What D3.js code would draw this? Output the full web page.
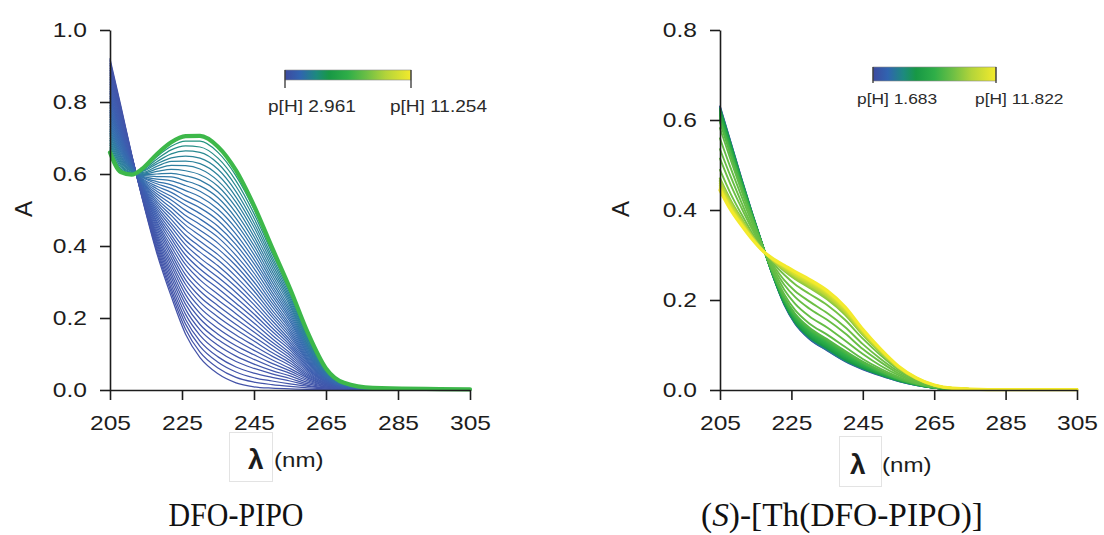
<!DOCTYPE html>
<html><head><meta charset="utf-8">
<script src="https://cdn.jsdelivr.net/npm/d3@7"></script>
<style>
body{margin:0;background:#fff}
svg{display:block}
.sans{font-family:"Liberation Sans",Arial,Helvetica,sans-serif}
.serif{font-family:"Liberation Serif","DejaVu Serif","Times New Roman",serif}
</style></head>
<body><svg id="chart" width="1104" height="535"></svg>
<script>
// ---------- DATA ----------
const xTicks = [205, 225, 245, 265, 285, 305];
const yTicksLeft = [0, 0.2, 0.4, 0.6, 0.8, 1.0];
const yTicksRight = [0, 0.2, 0.4, 0.6, 0.8];
const legendLeft = ["p[H] 2.961", "p[H] 11.254"];
const legendRight = ["p[H] 1.683", "p[H] 11.822"];

// DFO-PIPO : wavelengths (nm) and absorbance spectra, low p[H] (first) -> high p[H] (last)
const lambdaLeft = [205,208,211,214,218,222,226,230,235,240,245,250,255,260,265,270,278,305];
const spectraLeft = [
[.920,.790,.655,.530,.380,.260,.155,.090,.045,.020,.009,.005,.003,.002,.002,.001,.001,.002],
[.914,.785,.654,.532,.387,.271,.169,.105,.061,.035,.022,.015,.010,.006,.003,.001,.001,.002],
[.907,.781,.652,.534,.394,.281,.183,.121,.077,.050,.034,.025,.017,.010,.005,.002,.001,.002],
[.901,.776,.651,.536,.401,.292,.196,.136,.092,.064,.047,.035,.025,.013,.006,.002,.001,.002],
[.894,.772,.649,.539,.408,.303,.210,.152,.108,.079,.060,.045,.032,.017,.008,.003,.002,.002],
[.888,.767,.648,.541,.414,.314,.224,.167,.124,.094,.072,.054,.039,.021,.009,.003,.002,.002],
[.881,.762,.646,.543,.421,.324,.238,.182,.140,.109,.085,.064,.046,.025,.011,.004,.002,.002],
[.875,.758,.645,.545,.428,.335,.251,.198,.155,.123,.098,.074,.053,.029,.012,.004,.002,.002],
[.868,.753,.644,.547,.435,.346,.265,.213,.171,.138,.110,.084,.060,.033,.014,.005,.002,.002],
[.862,.748,.642,.549,.442,.356,.279,.229,.187,.153,.123,.094,.068,.036,.015,.005,.002,.002],
[.855,.744,.641,.551,.449,.367,.293,.244,.203,.168,.136,.104,.075,.040,.017,.006,.002,.002],
[.849,.739,.639,.553,.456,.378,.306,.259,.219,.182,.148,.114,.082,.044,.018,.006,.002,.002],
[.842,.735,.638,.556,.463,.388,.320,.275,.234,.197,.161,.124,.089,.048,.019,.007,.003,.002],
[.836,.730,.636,.558,.469,.399,.334,.290,.250,.212,.173,.133,.096,.052,.021,.007,.003,.002],
[.829,.725,.635,.560,.476,.410,.348,.306,.266,.227,.186,.143,.103,.056,.022,.008,.003,.002],
[.823,.721,.634,.562,.483,.421,.361,.321,.282,.241,.199,.153,.111,.059,.024,.008,.003,.002],
[.816,.716,.632,.564,.490,.431,.375,.336,.297,.256,.211,.163,.118,.063,.025,.009,.003,.002],
[.810,.711,.631,.566,.497,.442,.389,.352,.313,.271,.224,.173,.125,.067,.027,.009,.003,.002],
[.803,.707,.629,.568,.504,.453,.403,.367,.329,.286,.237,.183,.132,.071,.028,.010,.003,.002],
[.797,.702,.628,.570,.511,.463,.416,.383,.345,.300,.249,.193,.139,.075,.030,.010,.003,.002],
[.790,.698,.627,.573,.518,.474,.430,.398,.361,.315,.262,.203,.147,.079,.031,.011,.004,.002],
[.784,.693,.625,.575,.524,.485,.444,.413,.376,.330,.275,.212,.154,.082,.032,.011,.004,.002],
[.777,.688,.624,.577,.531,.495,.458,.429,.392,.345,.287,.222,.161,.086,.034,.011,.004,.002],
[.771,.684,.622,.579,.538,.506,.471,.444,.408,.359,.300,.232,.168,.090,.035,.012,.004,.002],
[.764,.679,.621,.581,.545,.517,.485,.460,.424,.374,.313,.242,.175,.094,.037,.012,.004,.002],
[.758,.674,.619,.583,.552,.528,.499,.475,.439,.389,.325,.252,.182,.098,.038,.013,.004,.002],
[.751,.670,.618,.585,.559,.538,.513,.490,.455,.404,.338,.262,.190,.101,.040,.013,.004,.002],
[.745,.665,.617,.587,.566,.549,.526,.506,.471,.418,.351,.272,.197,.105,.041,.014,.004,.002],
[.738,.661,.615,.590,.573,.560,.540,.521,.487,.433,.363,.282,.204,.109,.043,.014,.005,.002],
[.732,.656,.614,.592,.579,.570,.554,.537,.502,.448,.376,.291,.211,.113,.044,.015,.005,.002],
[.725,.651,.612,.594,.586,.581,.568,.552,.518,.463,.389,.301,.218,.117,.046,.015,.005,.002],
[.719,.647,.611,.596,.593,.592,.581,.567,.534,.477,.401,.311,.225,.121,.047,.016,.005,.002],
[.712,.642,.609,.598,.600,.602,.595,.583,.550,.492,.414,.321,.233,.124,.048,.016,.005,.002],
[.706,.637,.608,.600,.607,.613,.609,.598,.566,.507,.426,.331,.240,.128,.050,.017,.005,.002],
[.699,.633,.607,.602,.614,.624,.623,.614,.581,.522,.439,.341,.247,.132,.051,.017,.005,.002],
[.693,.628,.605,.604,.621,.635,.636,.629,.597,.536,.452,.351,.254,.136,.053,.018,.005,.002],
[.686,.624,.604,.607,.628,.645,.650,.644,.613,.551,.464,.361,.261,.140,.054,.018,.006,.002],
[.680,.619,.602,.609,.634,.656,.664,.660,.629,.566,.477,.370,.268,.144,.056,.019,.006,.002],
[.673,.614,.601,.611,.641,.667,.678,.675,.644,.581,.490,.380,.274,.148,.057,.019,.006,.002],
[.667,.610,.599,.613,.648,.677,.691,.691,.660,.595,.502,.388,.279,.153,.059,.020,.006,.002],
[.660,.605,.598,.615,.655,.688,.705,.706,.676,.610,.512,.396,.282,.158,.060,.020,.006,.002]
];

// (S)-[Th(DFO-PIPO)] : wavelengths, p[H] of each spectrum and absorbance spectra
const lambdaRight = [205,208,211,214,217,220,223,226,230,235,240,245,250,255,260,265,270,280,305];
const pHRight = [1.683,3.50,4.50,5.20,5.60,5.90,6.20,6.40,6.60,6.80,7.00,7.20,7.40,7.60,
                 7.95,8.05,8.15,8.25,8.35,
                 8.90,9.30,9.70,10.10,10.50,10.95,11.40,11.822];
const spectraRight = [
[.630,.550,.470,.393,.320,.250,.190,.148,.114,.088,.064,.046,.032,.020,.011,.005,.002,.001,.001],
[.628,.549,.469,.392,.320,.250,.191,.149,.115,.089,.065,.047,.033,.020,.011,.005,.002,.001,.001],
[.626,.547,.468,.392,.320,.251,.192,.150,.117,.091,.066,.048,.033,.021,.011,.005,.002,.001,.001],
[.624,.545,.466,.391,.320,.251,.193,.152,.119,.093,.068,.049,.034,.021,.012,.005,.002,.001,.001],
[.621,.543,.465,.390,.319,.252,.194,.154,.121,.095,.070,.051,.035,.022,.012,.005,.002,.001,.001],
[.618,.540,.463,.389,.319,.253,.196,.156,.123,.097,.072,.052,.036,.022,.012,.005,.002,.001,.001],
[.615,.538,.462,.388,.319,.253,.197,.157,.125,.099,.074,.053,.037,.023,.012,.005,.002,.001,.001],
[.612,.536,.460,.388,.319,.254,.198,.159,.127,.101,.076,.055,.038,.023,.013,.006,.002,.001,.001],
[.610,.534,.459,.387,.319,.255,.200,.161,.129,.103,.077,.056,.039,.024,.013,.006,.002,.001,.001],
[.607,.531,.457,.386,.319,.255,.201,.162,.131,.105,.079,.057,.039,.024,.013,.006,.002,.001,.001],
[.604,.529,.455,.385,.318,.256,.202,.164,.133,.107,.081,.059,.040,.025,.013,.006,.002,.001,.001],
[.601,.527,.454,.384,.318,.256,.203,.166,.135,.109,.083,.060,.041,.025,.014,.006,.002,.001,.001],
[.598,.525,.452,.383,.318,.257,.205,.168,.136,.111,.085,.061,.042,.026,.014,.006,.002,.001,.001],
[.595,.522,.450,.382,.318,.258,.207,.170,.139,.113,.087,.063,.043,.026,.014,.006,.002,.001,.001],
[.582,.511,.443,.378,.317,.261,.213,.178,.148,.123,.096,.069,.047,.029,.015,.007,.003,.001,.001],
[.559,.493,.431,.371,.316,.266,.223,.192,.164,.139,.110,.080,.054,.033,.017,.007,.003,.001,.001],
[.535,.474,.417,.363,.314,.271,.234,.207,.181,.156,.126,.091,.062,.037,.019,.008,.003,.001,.001],
[.514,.456,.405,.357,.313,.276,.244,.220,.197,.171,.140,.102,.069,.041,.021,.009,.003,.001,.001],
[.489,.436,.391,.349,.312,.281,.256,.235,.214,.189,.156,.114,.077,.045,.023,.010,.004,.001,.001],
[.470,.421,.381,.343,.311,.285,.265,.247,.228,.202,.168,.123,.083,.048,.025,.010,.004,.001,.001],
[.466,.418,.379,.342,.310,.286,.267,.249,.230,.205,.171,.124,.084,.049,.025,.010,.004,.001,.001],
[.463,.415,.376,.341,.310,.287,.268,.252,.233,.208,.173,.126,.085,.050,.025,.010,.004,.001,.001],
[.459,.412,.374,.340,.310,.288,.270,.254,.235,.210,.175,.128,.086,.050,.026,.011,.004,.001,.001],
[.455,.409,.372,.338,.310,.289,.272,.256,.238,.213,.178,.130,.088,.051,.026,.011,.004,.001,.001],
[.451,.406,.370,.337,.309,.289,.274,.258,.241,.216,.180,.131,.089,.052,.026,.011,.004,.001,.001],
[.448,.403,.368,.336,.309,.290,.275,.261,.243,.218,.183,.133,.090,.052,.027,.011,.004,.001,.001],
[.444,.400,.366,.335,.309,.291,.277,.263,.246,.221,.185,.135,.091,.053,.027,.011,.004,.001,.001]
];

// ---------- DRAWING ----------
const svg = d3.select("#chart");
const INK = "#1c1c1c";

const gradStops = [[0,"#3d4a9f"],[0.12,"#3064b0"],[0.25,"#1d8a7e"],[0.35,"#179845"],
                   [0.5,"#2fae48"],[0.65,"#6dbf45"],[0.8,"#b3d43a"],[1,"#f3ea2c"]];
const gradColor = d3.scaleLinear().domain(gradStops.map(s=>s[0])).range(gradStops.map(s=>s[1]))
  .interpolate(d3.interpolateRgb).clamp(true);
const leftColor = d3.scaleLinear().domain([0,0.4,0.7,0.9,0.975,1])
  .range(["#4453a8","#3e5fb0","#3570ae","#2b8498","#23937f","#3cb54a"]).interpolate(d3.interpolateRgb);

function stretch(sel, k){
  sel.each(function(){
    const L = this.getComputedTextLength();
    this.setAttribute("textLength", (L*k).toFixed(1));
    this.setAttribute("lengthAdjust","spacingAndGlyphs");
  });
}

const defs = svg.append("defs");
function addGradient(id){
  const lg = defs.append("linearGradient").attr("id", id).attr("x1","0%").attr("x2","100%").attr("y1","0%").attr("y2","0%");
  gradStops.forEach(s => lg.append("stop").attr("offset", (s[0]*100)+"%").attr("stop-color", s[1]));
}
addGradient("gL"); addGradient("gR");

function panel(o){
  const x = d3.scaleLinear().domain([205,305]).range(o.xr);
  const y = d3.scaleLinear().domain(o.yd).range([390,30]);
  const g = svg.append("g").attr("class","sans");
  const line = d3.line().x((d,i)=>x(o.lam[i])).y(d=>y(d)).curve(d3.curveMonotoneX);
  g.append("g").selectAll("path").data(o.spectra).join("path")
    .attr("d", line).attr("fill","none")
    .attr("stroke",(d,i)=>o.color(i)).attr("stroke-width",(d,i)=>o.width(i))
    .attr("stroke-linejoin","round").attr("stroke-linecap","round");

  const gx = g.append("g").attr("transform","translate(0,390)")
    .call(d3.axisBottom(x).tickValues(xTicks).tickSize(10).tickPadding(15).tickSizeOuter(0));
  const gy = g.append("g").attr("transform",`translate(${o.xr[0]},0)`)
    .call(d3.axisLeft(y).tickValues(o.yTicks).tickFormat(d3.format(".1f")).tickSize(10).tickPadding(13).tickSizeOuter(0));
  [gx,gy].forEach(a=>{
    a.attr("font-size",21).attr("font-family",null);
    a.select(".domain").attr("stroke",INK).attr("stroke-width",1.6);
    a.selectAll(".tick line").attr("stroke",INK).attr("stroke-width",1.6);
    a.selectAll(".tick text").attr("fill",INK).style("font-size","21px").call(stretch,1.17);
  });

  // y title
  g.append("text").attr("transform",`translate(${o.aX},209) rotate(-90)`)
    .attr("text-anchor","middle").attr("dy","0.35em").style("font-size","24px").attr("fill",INK).text("A");

  // x title with faint box
  g.append("rect").attr("x",o.box[0]).attr("y",o.box[1]).attr("width",o.box[2]).attr("height",o.box[3])
    .attr("fill","none").attr("stroke","#e3e3e3").attr("stroke-width",1);
  g.append("text").attr("x",o.lamX).attr("y",o.lamY).style("font-size","28px").style("font-weight","bold")
    .attr("fill",INK).text("λ");
  g.append("text").attr("x",o.nmX).attr("y",o.lamY-2).style("font-size","21px").attr("fill",INK).text("(nm)")
    .call(stretch,1.15);

  // colour-bar legend
  const L = o.leg;
  g.append("rect").attr("x",L.x).attr("y",L.y).attr("width",L.w).attr("height",L.h)
    .attr("fill",`url(#${L.id})`).attr("stroke","#8a8a8a").attr("stroke-width",0.6);
  [L.x, L.x+L.w].forEach(xx => g.append("line").attr("x1",xx).attr("x2",xx).attr("y1",L.y).attr("y2",L.y+L.h+L.tick)
    .attr("stroke","#333").attr("stroke-width",1.3));
  L.labels.forEach((t,i)=> g.append("text").attr("x",L.lx[i]).attr("y",L.ly).style("font-size",L.fs+"px")
    .attr("fill","#2a2a2a").text(t).call(stretch,1.12));
}

panel({
  xr:[110,470], yd:[0,1], yTicks:yTicksLeft, lam:lambdaLeft, spectra:spectraLeft,
  color:i => i===spectraLeft.length-1 ? "#3db84a" : leftColor(i/(spectraLeft.length-1)),
  width:i => i===spectraLeft.length-1 ? 4.2 : 1.25,
  aX:24, box:[229.5,432.5,43,49], lamX:248, nmX:274, lamY:469,
  leg:{id:"gL", x:285, y:70, w:126, h:10, tick:8, labels:legendLeft, lx:[268,390], ly:112, fs:17}
});

const pHmin = pHRight[0], pHmax = pHRight[pHRight.length-1];
panel({
  xr:[720,1077], yd:[0,0.8], yTicks:yTicksRight, lam:lambdaRight, spectra:spectraRight,
  color:i => gradColor((pHRight[i]-pHmin)/(pHmax-pHmin)),
  width:i => i===spectraRight.length-1 ? 3.2 : (pHRight[i] > 8.5 ? 2.3 : 1.9),
  aX:621, box:[839.5,436.5,42,50], lamX:850, nmX:882, lamY:474,
  leg:{id:"gR", x:873, y:67, w:123, h:14, tick:2, labels:legendRight, lx:[857,975], ly:104, fs:15.5}
});

// captions
const cap = svg.append("g").attr("class","serif").attr("fill","#111");
cap.append("text").attr("transform","translate(236,526) scale(1,1.15)").attr("text-anchor","middle")
  .style("font-size","30px").text("DFO-PIPO");
const c2 = cap.append("text").attr("transform","translate(842,526) scale(1,1.15)").attr("text-anchor","middle")
  .style("font-size","30px");
c2.append("tspan").text("(");
c2.append("tspan").style("font-style","italic").text("S");
c2.append("tspan").text(")-[Th(DFO-PIPO)]");
c2.attr("textLength",282).attr("lengthAdjust","spacingAndGlyphs");
</script>
</body></html>
